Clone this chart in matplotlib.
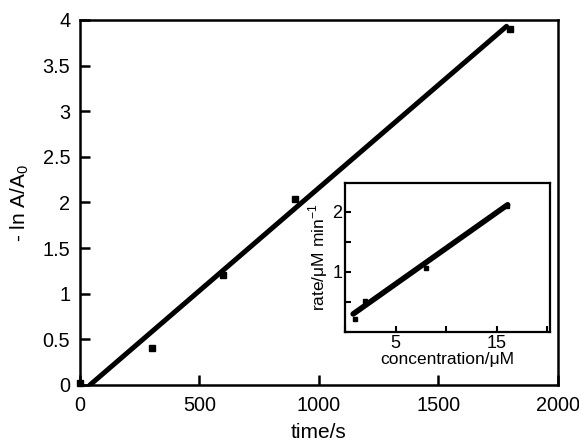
import matplotlib.pyplot as plt

plt.rcParams['font.family'] = ['Liberation Sans', 'DejaVu Sans']

# main plot: -ln A/A0 against time
time_s = [0, 300, 600, 900, 1800]
ln_ratio = [0.02, 0.40, 1.20, 2.04, 3.90]
fit_time = [42, 1785]
fit_ln = [0.0, 3.93]

# inset: rate against concentration
conc_uM = [1.0, 2.0, 8.0, 16.0]
rate = [0.22, 0.52, 1.07, 2.10]
fit_conc = [0.8, 16.1]
fit_rate = [0.30, 2.12]

fig = plt.figure(figsize=(5.79, 4.43), dpi=100)

ax = fig.add_axes([0.138, 0.131, 0.8256, 0.824])
ax.plot(fit_time, fit_ln, color='black', lw=3.6, solid_capstyle='round')
ax.plot(time_s, ln_ratio, 's', color='black', ms=5, clip_on=False, zorder=3)
ax.set_xlim(0, 2000)
ax.set_ylim(0, 4)
ax.set_xticks([0, 500, 1000, 1500, 2000])
ax.set_yticks([0, 0.5, 1, 1.5, 2, 2.5, 3, 3.5, 4])
ax.set_yticklabels(['0', '0.5', '1', '1.5', '2', '2.5', '3', '3.5', '4'])
ax.tick_params(direction='in', length=7, width=1.8, labelsize=14.3)
ax.tick_params(axis='x', pad=8)
ax.tick_params(axis='y', pad=7)
for s in ax.spines.values():
    s.set_linewidth(1.8)
ax.set_xlabel('time/s', fontsize=15, labelpad=6)
ax.set_ylabel('- ln A/A$_\\mathregular{0}$', fontsize=15, labelpad=8)

ins = fig.add_axes([0.596, 0.2506, 0.354, 0.336])
ins.plot(fit_conc, fit_rate, color='black', lw=4.0, solid_capstyle='round')
ins.plot(conc_uM, rate, 's', color='black', ms=3.5, zorder=3)
ins.set_xlim(0, 20.3)
ins.set_ylim(0, 2.48)
ins.set_xticks([0, 5, 10, 15, 20])
ins.set_xticklabels(['', '5', '', '15', ''])
ins.set_yticks([0, 0.5, 1, 1.5, 2])
ins.set_yticklabels(['', '', '1', '', '2'])
ins.tick_params(direction='in', length=4, width=1.5, labelsize=13, pad=2)
for s in ins.spines.values():
    s.set_linewidth(1.6)
ins.set_xlabel('concentration/\u03bcM', fontsize=12.5, labelpad=0)
ins.set_ylabel('rate/\u03bcM min$^{\\mathregular{-1}}$', fontsize=12.5, labelpad=2)

fig.savefig('out.png', dpi=100)
